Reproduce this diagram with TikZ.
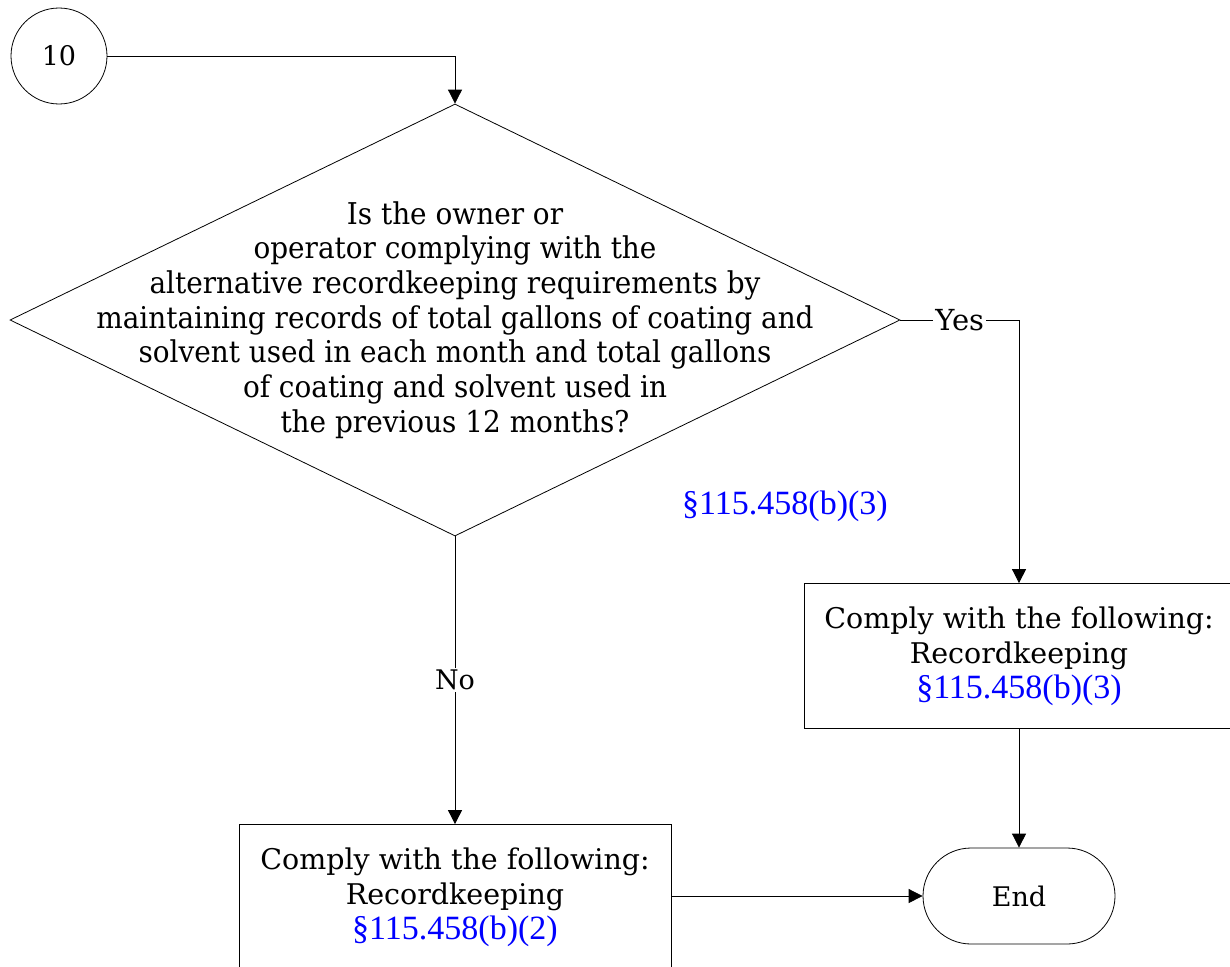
\documentclass[tikz,border=0pt]{standalone}
\usepackage{fontspec}
\setmainfont{DejaVu Serif}
\newfontfamily\condfont[FakeStretch=0.93]{DejaVu Serif}
\newfontfamily\refont{Liberation Serif}
\usetikzlibrary{shapes.geometric,shapes.misc,arrows.meta}
\definecolor{refblue}{RGB}{0,0,255}
\begin{document}
\begin{tikzpicture}[x=1pt,y=-1pt,
  every node/.style={font=\fontsize{27}{34}\selectfont},
  line/.style={line width=0.8pt},
  arr/.style={line width=0.8pt,-{Triangle[length=14pt,width=14pt]}},
  boxnode/.style={draw,line width=0.8pt,minimum width=430pt,minimum height=145pt,align=center,font=\fontsize{28.5}{35}\selectfont},
  reftext/.style={text=refblue,font=\refont\fontsize{34}{35}\selectfont},
  lbl/.style={fill=white,inner sep=2pt}]
\clip (0,0) rectangle (1230,966);
\useasboundingbox (0,0) rectangle (1230,966);
\node[draw,circle,line width=0.8pt,minimum size=96pt,inner sep=0] (c10) at (59,56) {10};
\node[draw,diamond,line width=0.8pt,minimum width=890pt,minimum height=432pt,inner sep=0] (d) at (455,320) {};
\node[align=center,font=\condfont\fontsize{30}{34.7}\selectfont] (dtext) at (455,320) {Is the owner or\\operator complying with the\\alternative recordkeeping requirements by\\maintaining records of total gallons of coating and\\solvent used in each month and total gallons\\of coating and solvent used in\\the previous 12 months?};
\node[reftext] (dref) at (785,506) {§115.458(b)(3)};
\node[boxnode] (rbox) at (1019,656) {Comply with the following:\\Recordkeeping\\{\refont\fontsize{34}{35}\selectfont\color{refblue}§115.458(b)(3)}};
\node[boxnode,minimum width=432pt] (lbox) at (455,897) {Comply with the following:\\Recordkeeping\\{\refont\fontsize{34}{35}\selectfont\color{refblue}§115.458(b)(2)}};
\node[draw,rounded rectangle,line width=0.8pt,minimum width=192pt,minimum height=96pt,inner sep=0] (end) at (1019,896) {End};
\draw[arr] (c10) -| (d.north);
\draw[arr] (d.east) -| node[lbl,pos=0.25,font=\fontsize{29}{34}\selectfont] {Yes} (rbox.north);
\draw[arr] (d.south) -- node[lbl] {No} (lbox.north);
\draw[arr] (rbox.south) -- (end.north);
\draw[arr] (lbox.east |- end.west) -- (end.west);
\end{tikzpicture}
\end{document}
